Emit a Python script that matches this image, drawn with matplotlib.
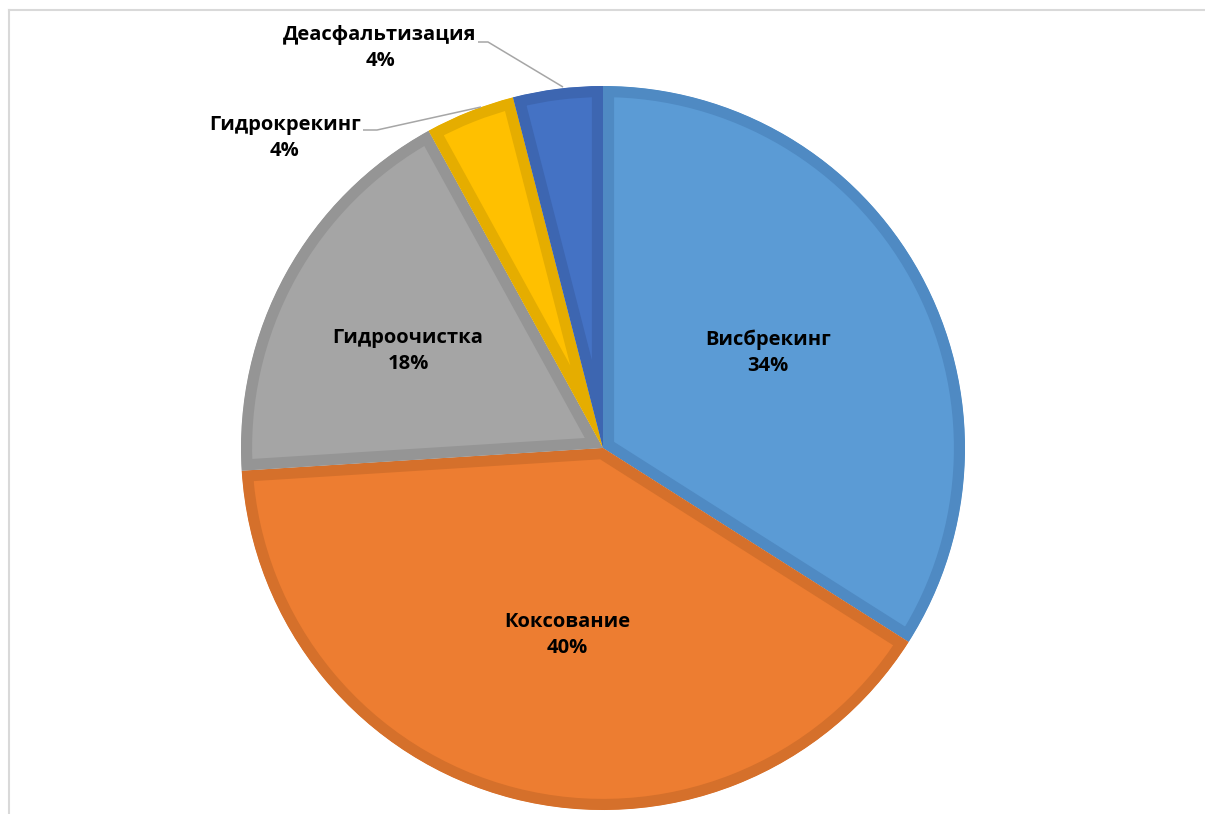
import matplotlib
matplotlib.use("Agg")
import matplotlib.pyplot as plt

# Share of each residue-upgrading process
processes = ["Висбрекинг", "Коксование", "Гидроочистка", "Гидрокрекинг", "Деасфальтизация"]
shares = [34, 40, 18, 4, 4]
fill_colors = ["#5B9BD5", "#ED7D31", "#A5A5A5", "#FFC000", "#4472C4"]
edge_colors = ["#4F8AC3", "#D5702B", "#959595", "#E5AD00", "#3D66B1"]

W, H = 1205, 814
fig = plt.figure(figsize=(W / 100, H / 100), dpi=100)
ax = fig.add_axes([0, 0, 1, 1])

cx, cy, r = 603, H - 448, 362
wedges, _ = ax.pie(shares, colors=fill_colors, startangle=90, counterclock=False,
                   center=(cx, cy), radius=r, frame=True)
ax.set_xlim(0, W)
ax.set_ylim(0, H)
ax.set_aspect("equal")
ax.axis("off")

# Inner border of each slice: stroke twice the width and clip to the slice itself
for w, ec in zip(wedges, edge_colors):
    w.set_edgecolor(ec)
    w.set_linewidth(16)
    w.set_joinstyle("miter")
    w.set_clip_on(True)
    w.set_clip_path(w)

font = dict(family=["Open Sans", "DejaVu Sans"], fontweight="bold", fontsize=14.5,
            fontstretch="normal", color="#000000", ha="center", va="center",
            linespacing=1.4)

label_pos = [(768, H - 353), (567, H - 635), (408, H - 351), (285, H - 138), (380, H - 48)]
for name, val, (x, y) in zip(processes, shares, label_pos):
    ax.text(x, y, f"{name}\n{val}%", **font)

# Leader lines for the two small outer labels
lc = dict(color="#A6A6A6", linewidth=1.1, solid_capstyle="butt")
ax.plot([363, 377, 481], [H - 130, H - 130, H - 107], **lc)
ax.plot([478, 488, 563], [H - 42, H - 42, H - 87], **lc)

# Chart area border (top and left edges)
ax.plot([9, W], [H - 10, H - 10], color="#D9D9D9", linewidth=1.5)
ax.plot([9, 9], [H - 10, 0], color="#D9D9D9", linewidth=1.5)

fig.savefig("out.png", dpi=100)
